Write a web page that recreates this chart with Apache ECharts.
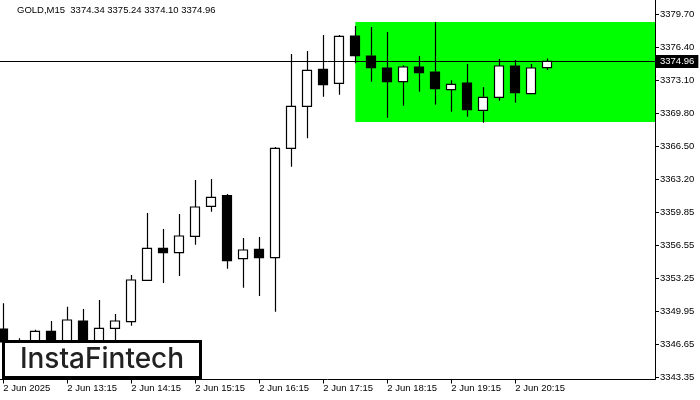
<!DOCTYPE html>
<html>
<head>
<meta charset="utf-8">
<style>html,body{margin:0;padding:0;background:#fff;}#c{width:700px;height:400px;}</style>
<script src="https://cdn.jsdelivr.net/npm/echarts@6/dist/echarts.min.js"></script>
</head>
<body>
<div id="c"></div>
<script>
// bar times (M15), 2 Jun 2025
var times = ["12:15","12:30","12:45","13:00","13:15","13:30","13:45","14:00","14:15","14:30","14:45","15:00",
  "15:15","15:30","15:45","16:00","16:15","16:30","16:45","17:00","17:15","17:30","17:45","18:00",
  "18:15","18:30","18:45","19:00","19:15","19:30","19:45","20:00","20:15","20:30","20:45"];
var openV  = [3348.20,3346.90,3346.40,3347.97,3346.60,3349.00,3346.70,3348.27,3348.93,3353.07,3356.27,3355.83,
  3357.47,3360.47,3361.53,3355.23,3356.17,3355.33,3366.27,3370.47,3374.17,3372.77,3377.50,3375.50,
  3374.30,3372.93,3374.40,3373.90,3372.13,3372.80,3370.07,3371.37,3374.50,3371.73,3374.34];
var closeV = [3346.90,3346.40,3347.97,3346.60,3349.10,3346.70,3348.27,3349.00,3353.10,3356.27,3355.83,3357.50,
  3360.40,3361.37,3355.03,3356.10,3355.33,3366.27,3370.47,3374.07,3372.63,3377.47,3375.53,3374.33,
  3372.93,3374.40,3373.83,3372.23,3372.67,3370.13,3371.37,3374.50,3371.83,3374.30,3374.96];
var lowV   = [3345.60,3345.50,3345.90,3346.00,3346.20,3346.10,3346.30,3346.80,3348.53,3353.07,3352.80,3353.50,
  3356.63,3359.93,3354.23,3352.33,3351.50,3349.93,3364.43,3367.27,3371.43,3371.63,3374.77,3372.93,
  3369.33,3370.53,3371.93,3370.63,3369.93,3369.43,3368.83,3371.03,3370.83,3371.73,3374.10];
var highV  = [3350.77,3347.27,3348.13,3349.00,3350.43,3350.20,3351.10,3349.70,3353.60,3359.80,3358.20,3359.70,
  3363.10,3363.20,3361.70,3357.30,3357.40,3366.40,3375.70,3376.00,3377.60,3377.60,3378.50,3378.40,
  3377.90,3374.57,3375.50,3378.90,3373.07,3374.70,3372.40,3375.20,3375.10,3374.70,3375.24];

var yTickValues = [3379.70,3376.40,3373.10,3369.80,3366.50,3363.20,3359.85,3356.55,3353.25,3349.95,3346.65,3343.35];
var xTickIndex  = [0,4,8,12,16,20,24,28,32];
var xTickLabels = ["2 Jun 2025","2 Jun 13:15","2 Jun 14:15","2 Jun 15:15","2 Jun 16:15","2 Jun 17:15","2 Jun 18:15","2 Jun 19:15","2 Jun 20:15"];

var lastPrice = 3374.96;
var headerText = "GOLD,M15  3374.34 3375.24 3374.10 3374.96";
var boxStartIndex = 22;
var boxTop = 3378.90;
var boxBottom = 3368.90;

var candles = times.map(function (t, i) { return [i, openV[i], closeV[i], lowV[i], highV[i]]; });

var FONT = "Liberation Sans";
var chart = echarts.init(document.getElementById('c'), null, {renderer: 'canvas'});
chart.setOption({
  animation: false,
  backgroundColor: '#ffffff',
  grid: {left: 0, right: 45, top: 0, bottom: 20.5, containLabel: false},
  xAxis: {
    type: 'value', min: -0.206, max: 40.73,
    axisLine: {show: true, onZero: false, lineStyle: {color: '#000', width: 1}},
    axisTick: {show: true, length: 4, lineStyle: {color: '#000'}, customValues: xTickIndex},
    axisLabel: {show: true, customValues: xTickIndex, align: 'left', margin: 4,
      color: '#000', fontFamily: FONT, fontSize: 9.5,
      formatter: function (v) { var j = xTickIndex.indexOf(Math.round(v)); return j >= 0 ? xTickLabels[j] : ''; }},
    splitLine: {show: false}
  },
  yAxis: {
    type: 'value', position: 'right', min: 3343.15, max: 3381.10, scale: true,
    axisLine: {show: true, onZero: false, lineStyle: {color: '#000', width: 1}},
    axisTick: {show: true, length: 4, lineStyle: {color: '#000'}, customValues: yTickValues},
    axisLabel: {show: true, customValues: yTickValues, margin: 5, color: '#000',
      fontFamily: FONT, fontSize: 9.5, formatter: function (v) { return v.toFixed(2); }},
    splitLine: {show: false}
  },
  series: [
    {
      type: 'line', data: [], z: 1, silent: true,
      markArea: {silent: true, itemStyle: {color: '#00ff00', opacity: 1},
        data: [[{xAxis: boxStartIndex, yAxis: boxTop}, {xAxis: 'max', yAxis: boxBottom}]]}
    },
    {
      type: 'candlestick', z: 3, barWidth: 9.5,
      data: candles,
      encode: {x: 0, y: [1, 2, 3, 4]},
      itemStyle: {color: '#ffffff', color0: '#000000', borderColor: '#000000', borderColor0: '#000000', borderWidth: 1.2},
      markLine: {silent: true, symbol: ['none', 'none'],
        lineStyle: {color: '#000', width: 1, type: 'solid'},
        label: {show: true, position: 'end', distance: 1, formatter: lastPrice.toFixed(2),
          color: '#fff', backgroundColor: '#000', padding: [2, 4, 1, 4], fontFamily: FONT, fontSize: 9.5},
        data: [{yAxis: lastPrice}]}
    }
  ],
  graphic: [
    {type: 'text', left: 17, top: 5, z: 10,
      style: {text: headerText, fill: '#000', font: '9.5px "Liberation Sans"'}},
    {type: 'rect', z: 100, shape: {x: 3.5, y: 341.5, width: 197, height: 36},
      style: {fill: '#fff', stroke: '#000', lineWidth: 3}},
    {type: 'text', z: 101, x: 102, y: 360,
      style: {text: 'InstaFintech', fill: '#222', font: '500 28px Inter', textAlign: 'center', textVerticalAlign: 'middle'}}
  ]
});
</script>
</body>
</html>
